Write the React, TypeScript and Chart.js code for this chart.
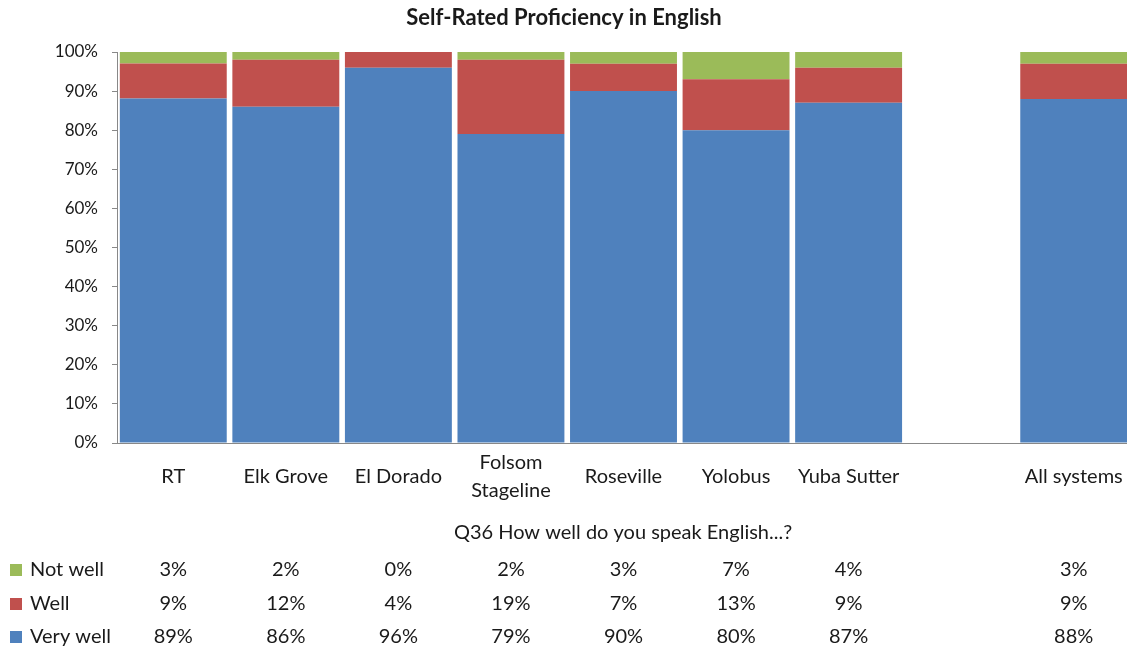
import React, { useEffect, useRef } from 'react';
import { Chart, registerables } from 'chart.js';

Chart.register(...registerables);

const titleText = 'Self-Rated Proficiency in English';
const tableTitle = 'Q36 How well do you speak English...?';
const categories: (string | string[])[] = ['RT', 'Elk Grove', 'El Dorado', ['Folsom', 'Stageline'], 'Roseville', 'Yolobus', 'Yuba Sutter', '', 'All systems'];
const seriesNames = ['Not well', 'Well', 'Very well'];
const notWell: (number | null)[] = [3, 2, 0, 2, 3, 7, 4, null, 3];
const well: (number | null)[] = [9, 12, 4, 19, 7, 13, 9, null, 9];
const veryWell: (number | null)[] = [89, 86, 96, 79, 90, 80, 87, null, 88];
const colors = ['#9BBB59', '#C0504D', '#4F81BD'];

const FONT = 'Lato, "DejaVu Sans", sans-serif';

function share(arr: (number | null)[], i: number): number | null {
  const v = arr[i];
  if (v === null) return null;
  const total = (notWell[i] || 0) + (well[i] || 0) + (veryWell[i] || 0);
  return (v / total) * 100;
}

const tablePlugin = {
  id: 'tablePlugin',
  afterDraw(chart: any) {
    const ctx = chart.ctx;
    const xs = chart.scales.x;
    ctx.save();
    ctx.fillStyle = '#1a1a1a';
    ctx.font = `bold 22px ${FONT}`;
    ctx.textAlign = 'center';
    ctx.textBaseline = 'middle';
    ctx.fillText(titleText, 564, 18);
    ctx.font = `20px ${FONT}`;
    ctx.fillText(tableTitle, 623, 533);
    const rows = [notWell, well, veryWell];
    const rowY = [570, 604, 637];
    rows.forEach((arr, r) => {
      ctx.fillStyle = colors[r];
      ctx.fillRect(10, rowY[r] - 6, 12, 12);
      ctx.fillStyle = '#1a1a1a';
      ctx.textAlign = 'left';
      ctx.fillText(seriesNames[r], 30, rowY[r]);
      ctx.textAlign = 'center';
      arr.forEach((v, i) => {
        if (v === null) return;
        ctx.fillText(`${v}%`, xs.getPixelForValue(i), rowY[r]);
      });
    });
    ctx.restore();
  },
};

export default function App() {
  const ref = useRef<HTMLCanvasElement>(null);
  useEffect(() => {
    if (!ref.current) return;
    const idx = categories.map((_, i) => i);
    const chart = new Chart(ref.current, {
      type: 'bar',
      data: {
        labels: categories as any,
        datasets: [
          { label: seriesNames[2], data: idx.map((i) => share(veryWell, i)), backgroundColor: colors[2] },
          { label: seriesNames[1], data: idx.map((i) => share(well, i)), backgroundColor: colors[1] },
          { label: seriesNames[0], data: idx.map((i) => share(notWell, i)), backgroundColor: colors[0] },
        ],
      },
      options: {
        responsive: false,
        animation: false,
        devicePixelRatio: 1,
        barPercentage: 0.95,
        categoryPercentage: 1,
        layout: { padding: { top: 52, right: 2, left: 0, bottom: 0 } },
        plugins: {
          legend: { display: false },
          tooltip: { enabled: false },
          title: { display: false },
        },
        scales: {
          x: {
            stacked: true,
            grid: { drawOnChartArea: false, drawTicks: false, color: '#888' },
            border: { display: true, color: '#888' },
            ticks: {
              font: { family: FONT, size: 20, lineHeight: 1.4 },
              color: '#1a1a1a',
              padding: 20,
              maxRotation: 0,
              autoSkip: false,
              crossAlign: 'center',
            },
            afterFit: (s: any) => {
              s.height = 216;
              s.paddingLeft = 0;
              s.paddingRight = 0;
            },
          },
          y: {
            stacked: true,
            min: 0,
            max: 100,
            grid: { drawOnChartArea: false, drawTicks: true, tickLength: 5, color: '#888' },
            border: { display: true, color: '#888' },
            ticks: {
              stepSize: 10,
              callback: (v: any) => `${v}%`,
              font: { family: FONT, size: 17 },
              color: '#1a1a1a',
              padding: 14,
            },
            afterFit: (s: any) => {
              s.width = 117;
            },
          },
        },
      },
      plugins: [tablePlugin],
    });
    return () => chart.destroy();
  }, []);
  return (
    <div style={{ position: 'absolute', left: 0, top: 0, width: 1127, height: 659, overflow: 'hidden', background: '#fff' }}>
      <canvas ref={ref} width={1132} height={659} style={{ width: 1132, height: 659, display: 'block' }} />
    </div>
  );
}
